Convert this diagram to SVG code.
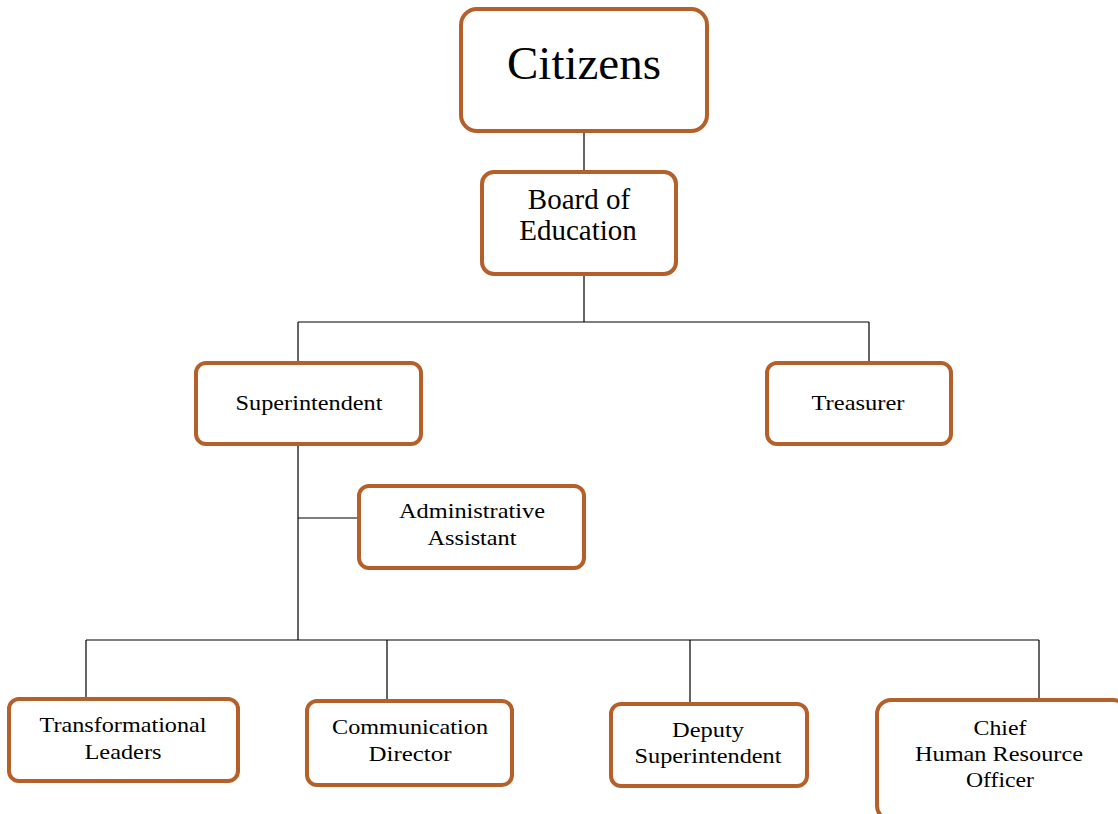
<svg xmlns="http://www.w3.org/2000/svg" width="1118" height="814" viewBox="0 0 1118 814">
<style>
.box{fill:#fff;stroke:#b5602a;stroke-width:4}
.t{font-family:"Liberation Serif",serif;fill:#000;text-anchor:middle}
.s{font-size:21px}
.c{stroke:#000;stroke-width:1.2;fill:none}
</style>
<rect width="1118" height="814" fill="#fff"/>
<g id="connectors">
<path class="c" d="M584 131V172M584 274V322M298 322H869M298 322V363M869 322V363M298 444V640M298 518H359M86 640H1039M86 640V699M387 640V701M690 640V704M1039 640V700"/>
</g>
<g id="citizens"><rect class="box" x="461" y="9" width="246" height="122" rx="16"/><text class="t" x="584" y="79" font-size="47">Citizens</text></g>
<g id="board"><rect class="box" x="482" y="172" width="194" height="102" rx="12"/><text class="t" x="579" y="209" font-size="29">Board of</text><text class="t" x="578" y="240" font-size="29">Education</text></g>
<g id="superintendent"><rect class="box" x="196" y="363" width="225" height="81" rx="10"/><text class="t s" x="309" y="410" textLength="147" lengthAdjust="spacingAndGlyphs">Superintendent</text></g>
<g id="treasurer"><rect class="box" x="767" y="363" width="184" height="81" rx="10"/><text class="t s" x="858" y="410" textLength="93" lengthAdjust="spacingAndGlyphs">Treasurer</text></g>
<g id="admin"><rect class="box" x="359" y="486" width="225" height="82" rx="10"/><text class="t s" x="472" y="518" textLength="146" lengthAdjust="spacingAndGlyphs">Administrative</text><text class="t s" x="472" y="545" textLength="89" lengthAdjust="spacingAndGlyphs">Assistant</text></g>
<g id="transformational"><rect class="box" x="9" y="699" width="229" height="82" rx="10"/><text class="t s" x="123" y="732" textLength="167" lengthAdjust="spacingAndGlyphs">Transformational</text><text class="t s" x="123" y="759" textLength="77" lengthAdjust="spacingAndGlyphs">Leaders</text></g>
<g id="communication"><rect class="box" x="307" y="701" width="205" height="84" rx="10"/><text class="t s" x="410" y="734" textLength="156" lengthAdjust="spacingAndGlyphs">Communication</text><text class="t s" x="410" y="761" textLength="83" lengthAdjust="spacingAndGlyphs">Director</text></g>
<g id="deputy"><rect class="box" x="611" y="704" width="196" height="82" rx="10"/><text class="t s" x="708" y="737" textLength="72" lengthAdjust="spacingAndGlyphs">Deputy</text><text class="t s" x="708" y="763" textLength="147" lengthAdjust="spacingAndGlyphs">Superintendent</text></g>
<g id="chro"><rect class="box" x="877" y="700" width="250" height="120" rx="14"/><text class="t s" x="1000" y="735" textLength="53" lengthAdjust="spacingAndGlyphs">Chief</text><text class="t s" x="999" y="761" textLength="168" lengthAdjust="spacingAndGlyphs">Human Resource</text><text class="t s" x="1000" y="787" textLength="68" lengthAdjust="spacingAndGlyphs">Officer</text></g>
</svg>
